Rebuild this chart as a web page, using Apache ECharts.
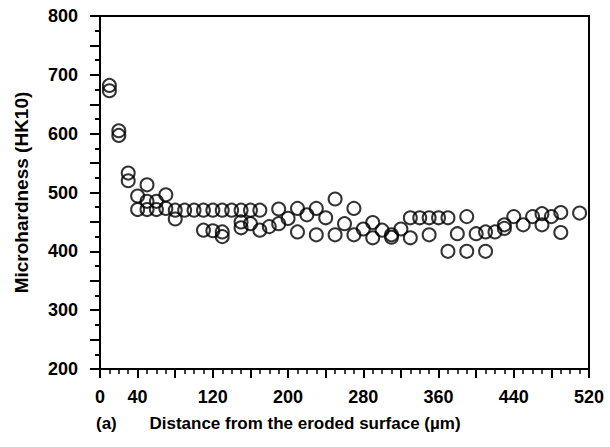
<!DOCTYPE html>
<html>
<head>
<meta charset="utf-8">
<script src="https://cdn.jsdelivr.net/npm/echarts@6/dist/echarts.min.js"></script>
<style>
html,body{margin:0;padding:0;background:#fff;}
#chart{width:610px;height:447px;}
</style>
</head>
<body>
<div id="chart"></div>
<script>
// Distance from the eroded surface (µm)
const distance = [10,10,20,20,30,30,40,40,50,50,50,60,60,70,70,80,80,
  90,100,110,120,130,140,150,160,170,
  110,120,130,130,150,150,160,170,180,190,190,200,
  210,210,220,230,230,240,250,250,260,270,270,280,290,290,300,310,310,320,330,330,340,350,350,360,370,370,380,390,390,400,410,410,420,430,430,440,450,460,470,470,480,490,490,510];
// Microhardness (HK10)
const hardness = [682,673,605,597,533,520,494,471,513,485,471,485,471,496,473,470,455,
  470,470,470,470,470,470,470,470,470,
  436,435,433,425,440,450,447,436,442,447,472,456,
  473,433,462,473,428,457,489,428,447,473,428,438,449,423,436,428,424,438,457,423,457,457,428,457,457,400,430,459,400,430,433,400,433,439,445,459,445,459,464,445,459,466,432,465];
const xTickLabels = [0,40,120,200,280,360,440,520];
const yTickLabels = [200,300,400,500,600,700,800];

const points = distance.map((d, i) => [d, hardness[i]]);
const font = 'Liberation Sans, Arial, Helvetica, sans-serif';

const chart = echarts.init(document.getElementById('chart'), null, {renderer: 'svg'});
chart.setOption({
  animation: false,
  backgroundColor: '#fff',
  grid: {left: 100, right: 21, top: 16, bottom: 78, containLabel: false},
  xAxis: [{
    type: 'value', min: 0, max: 520, interval: 40,
    name: 'Distance from the eroded surface (µm)',
    nameLocation: 'middle', nameGap: 46,
    nameTextStyle: {color: '#000', fontSize: 17, fontWeight: 'bold', fontFamily: font, padding: [0, 79, 0, 0]},
    axisLine: {show: true, onZero: false, lineStyle: {color: '#000', width: 2}},
    axisTick: {show: true, length: 9, lineStyle: {color: '#000', width: 2}},
    minorTick: {show: true, splitNumber: 4, length: 5, lineStyle: {color: '#000', width: 1.5}},
    splitLine: {show: false},
    axisLabel: {color: '#000', fontSize: 18, fontWeight: 'bold', fontFamily: font, margin: 19,
      formatter: v => xTickLabels.includes(v) ? String(v) : ''}
  }, {
    type: 'value', min: 0, max: 520, position: 'top',
    axisLine: {show: true, onZero: false, lineStyle: {color: '#000', width: 2}},
    axisTick: {show: false}, axisLabel: {show: false}, splitLine: {show: false}
  }],
  yAxis: [{
    type: 'value', min: 200, max: 800, interval: 50,
    name: 'Microhardness (HK10)',
    nameLocation: 'middle', nameGap: 69, nameRotate: 90,
    nameTextStyle: {color: '#000', fontSize: 19, fontWeight: 'bold', fontFamily: font},
    axisLine: {show: true, onZero: false, lineStyle: {color: '#000', width: 2}},
    axisTick: {show: true, length: 10, lineStyle: {color: '#000', width: 2}},
    minorTick: {show: true, splitNumber: 2, length: 5, lineStyle: {color: '#000', width: 2}},
    splitLine: {show: false},
    axisLabel: {color: '#000', fontSize: 18, fontWeight: 'bold', fontFamily: font, margin: 22,
      formatter: v => yTickLabels.includes(v) ? String(v) : ''}
  }, {
    type: 'value', min: 200, max: 800, position: 'right',
    axisLine: {show: true, onZero: false, lineStyle: {color: '#000', width: 2}},
    axisTick: {show: false}, axisLabel: {show: false}, splitLine: {show: false}
  }],
  graphic: [{
    type: 'text', left: 96, top: 415,
    style: {text: '(a)', fill: '#000', font: 'bold 17px ' + font}
  }],
  series: [{
    type: 'scatter',
    data: points,
    symbol: 'circle',
    symbolSize: 13,
    itemStyle: {color: 'rgba(0,0,0,0)', borderColor: '#000', borderWidth: 2}
  }]
});
</script>
</body>
</html>
